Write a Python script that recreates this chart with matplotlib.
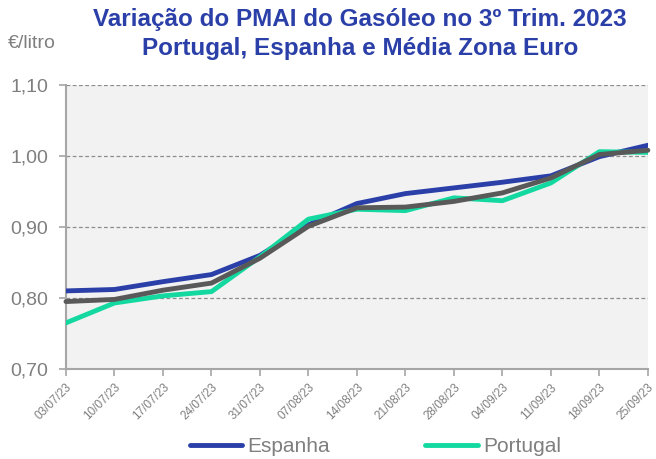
import numpy as np
import matplotlib.pyplot as plt
from matplotlib.transforms import ScaledTranslation

plt.rcParams['font.family'] = ['Liberation Sans', 'DejaVu Sans']

datas = ["03/07/23", "10/07/23", "17/07/23", "24/07/23", "31/07/23", "07/08/23", "14/08/23",
         "21/08/23", "28/08/23", "04/09/23", "11/09/23", "18/09/23", "25/09/23"]
espanha = [0.810, 0.812, 0.823, 0.833, 0.860, 0.903, 0.933, 0.947, 0.955, 0.963, 0.972, 0.999, 1.015]
portugal = [0.765, 0.793, 0.803, 0.809, 0.858, 0.911, 0.925, 0.923, 0.941, 0.937, 0.962, 1.006, 1.005]
media_ze = [0.795, 0.798, 0.811, 0.821, 0.856, 0.901, 0.927, 0.928, 0.936, 0.948, 0.969, 1.002, 1.008]

cores = {"Espanha": "#2B3FA8", "Portugal": "#13D9A0", "Média Zona Euro": "#595959"}
cinza = "#A6A6A6"
texto = "#7F7F7F"

fig = plt.figure(figsize=(6.56, 4.59), dpi=100)
ax = fig.add_axes([0.1006, 0.196, 0.887, 0.619])
ax.set_facecolor("#F2F2F2")

x = np.arange(len(datas))
ax.plot(x, espanha, color=cores["Espanha"], lw=3.5, label="Espanha", solid_capstyle='round', zorder=3)
ax.plot(x, portugal, color=cores["Portugal"], lw=3.5, label="Portugal", solid_capstyle='round', zorder=4)
ax.plot(x, media_ze, color=cores["Média Zona Euro"], lw=3.5, solid_capstyle='round', zorder=5,
        clip_on=False)

ax.set_xlim(0, len(datas) - 1)
ax.set_ylim(0.70, 1.10)
ax.set_yticks([0.70, 0.80, 0.90, 1.00, 1.10])
ax.set_yticklabels(["0,70", "0,80", "0,90", "1,00", "1,10"], fontsize=14, color=texto)
ax.set_xticks(x)
ax.set_xticklabels(datas, rotation=45, ha='right', rotation_mode='anchor', fontsize=8.5, color=texto)
desloc = ScaledTranslation(-4 / 100, 0, fig.dpi_scale_trans)
for lbl in ax.get_xticklabels():
    lbl.set_transform(lbl.get_transform() + desloc)
ax.grid(axis='y', color='#8C8C8C', ls=(0, (3, 2)), lw=0.9)
for s in ['top', 'right']:
    ax.spines[s].set_visible(False)
for s in ['left', 'bottom']:
    ax.spines[s].set_color(cinza)
    ax.spines[s].set_linewidth(1.5)
ax.tick_params(axis='both', color=cinza, length=5, width=1.2)
ax.tick_params(axis='y', pad=8)
ax.tick_params(axis='x', pad=4)

fig.text(0.549, 0.982, "Variação do PMAI do Gasóleo no 3º Trim. 2023\nPortugal, Espanha e Média Zona Euro",
         ha='center', va='top', fontsize=17.5, fontweight='bold', color="#2B3FA8", linespacing=1.3)
fig.text(0.012, 0.905, "€/litro", ha='left', va='center', fontsize=14, color=texto)

fig.legend(loc='lower center', bbox_to_anchor=(0.572, -0.035), ncol=2, frameon=False, fontsize=15,
           handlelength=2.5, columnspacing=4.6, labelcolor=texto, handletextpad=0.25)

fig.savefig("out.png", dpi=100)
